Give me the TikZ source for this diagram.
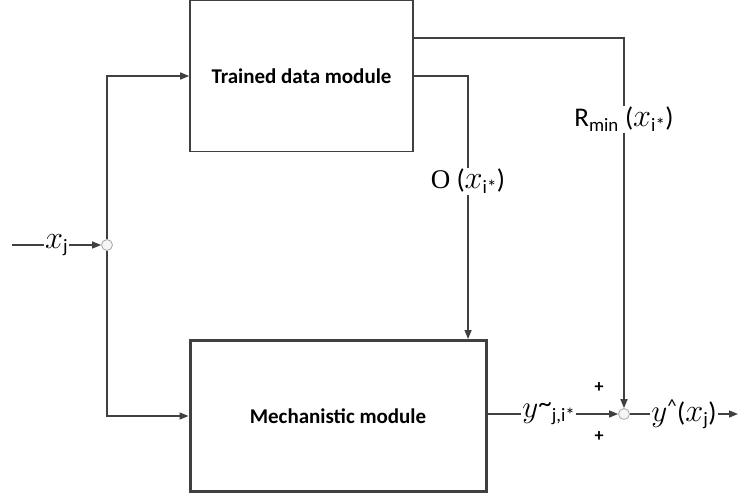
\documentclass[tikz,border=0pt]{standalone}
\usepackage{fontspec}
\setmainfont{Carlito}
\newfontfamily\serifo{Liberation Serif}
\usetikzlibrary{arrows.meta,calc}
\definecolor{ln}{HTML}{404040}
\newcommand{\bigx}{\scalebox{1.3}{$x$}}
\newcommand{\bigy}{\scalebox{1.25}{$y$}}
\begin{document}
\begin{tikzpicture}[x=1pt,y=-1pt,
  conn/.style={draw=ln,line width=1.4pt},
  arr/.style={conn,-{Triangle[length=9pt,width=7pt]}},
  boxa/.style={draw=ln,line width=1.6pt,fill=white,inner sep=0pt,font=\fontsize{21}{24}\selectfont\bfseries},
  boxb/.style={draw=ln,line width=3pt,fill=white,inner sep=0pt,font=\fontsize{21}{24}\selectfont\bfseries},
  junc/.style={circle,draw=gray!70,fill=gray!8,line width=0.8pt,minimum size=11pt,inner sep=0pt},
  lbl/.style={fill=white,inner sep=1pt,font=\fontsize{27}{30}\selectfont},
  plus/.style={inner sep=0pt,font=\fontsize{18}{20}\selectfont\bfseries}
]
\useasboundingbox (0,0) rectangle (738,499);
\node[boxa,minimum width=223pt,minimum height=151pt] (tdm) at (301.5,76) {Trained data module};
\node[boxb,minimum width=296pt,minimum height=151pt] (mech) at (338,416) {Mechanistic module};
\node[junc] (j) at (107,245) {};
\node[junc] (s) at (624,414) {};
\coordinate (in) at (12,245);
\coordinate (out) at (738,414);
\coordinate (t1) at ($(tdm.north east)!0.25!(tdm.south east)$);
\coordinate (m1) at ($(mech.north west)!0.935!(mech.north east)$);
% input
\draw[arr] (in) -- node[lbl,pos=0.5] (lxj) {\bigx\textsubscript{j}} (j.west);
\draw[arr] (j.north) |- (tdm.west);
\draw[arr] (j.south) |- (mech.west);
% top outputs
\draw[arr] (tdm.east) -| node[lbl,pos=0.70] (lo) {{\serifo O} (\bigx\textsubscript{i*})} (m1);
\draw[arr] (t1) -| node[lbl,pos=0.61] (lr) {R\textsubscript{min} (\bigx\textsubscript{i*})} (s.north);
% mech output
\draw[arr] (mech.east |- s.west) -- node[lbl,pos=0.47] (ly) {\bigy\raisebox{0.35ex}{\textasciitilde}\textsubscript{j,i*}} (s.west);
\draw[arr] (s.east) -- node[lbl,pos=0.5] (lyh) {\bigy\textsuperscript{\textasciicircum}(\bigx\textsubscript{j})} (out);
\node[plus] (p1) at (599,388) {+};
\node[plus] (p2) at (599,437) {+};
\end{tikzpicture}
\end{document}
